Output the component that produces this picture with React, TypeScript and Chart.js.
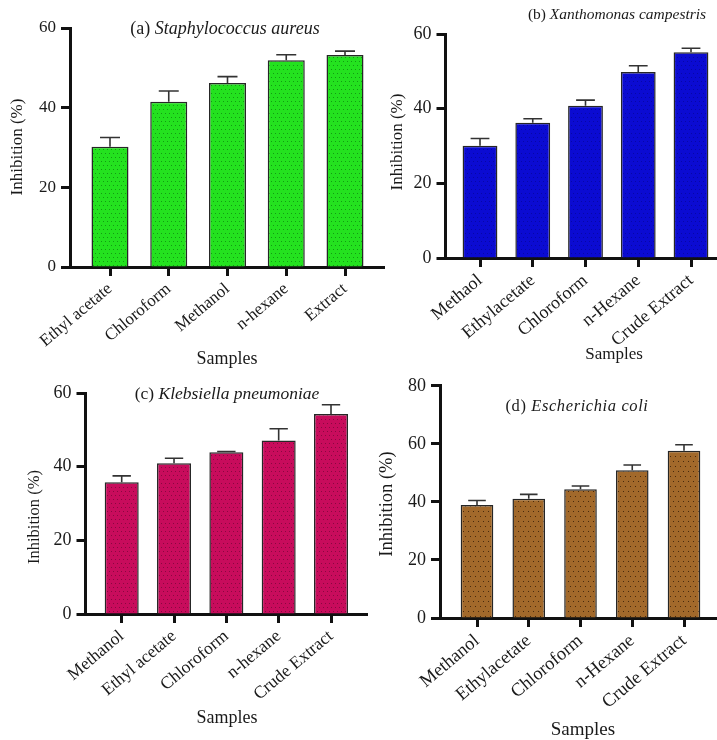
import { useEffect, useRef } from "react";
import { Chart, registerables } from "chart.js";

Chart.register(...registerables);

const SERIF = '"Liberation Serif", "Times New Roman", Times, serif';

// (a) Staphylococcus aureus
const staphSamples = ["Ethyl acetate", "Chloroform", "Methanol", "n-hexane", "Extract"];
const staphInhibition = [30.2, 41.5, 46.2, 51.9, 53.2];
const staphError = [2.3, 2.7, 1.6, 1.4, 1.0];

// (b) Xanthomonas campestris
const xanthoSamples = ["Methaol", "Ethylacetate", "Chloroform", "n-Hexane", "Crude Extract"];
const xanthoInhibition = [30.1, 36.2, 40.8, 49.8, 55.1];
const xanthoError = [1.9, 1.1, 1.5, 1.7, 1.1];

// (c) Klebsiella pneumoniae
const klebSamples = ["Methanol", "Ethyl acetate", "Chloroform", "n-hexane", "Crude Extract"];
const klebInhibition = [35.8, 40.9, 43.9, 47.1, 54.3];
const klebError = [1.7, 1.4, 0.2, 3.2, 2.5];

// (d) Escherichia coli
const coliSamples = ["Methanol", "Ethylacetate", "Chloroform", "n-Hexane", "Crude Extract"];
const coliInhibition = [38.9, 41.1, 44.4, 50.9, 57.6];
const coliError = [1.6, 1.5, 1.1, 1.8, 2.1];

const yTicks60 = [0, 20, 40, 60];
const yTicks80 = [0, 20, 40, 60, 80];

const xAxisTitle = "Samples";
const yAxisTitle = "Inhibition (%)";

type Pt = { x: number; y: number };
type Panel = {
  letter: string;
  species: string;
  samples: string[];
  values: number[];
  errors: number[];
  yTicks: number[];
  fill: string;
  dot: string;
  dotStep: number;
  box: { x: number; y: number; w: number; h: number };
  area: { left: number; right: number; top: number; bottom: number };
  firstCenter: number;
  lastCenter: number;
  barFrac: number;
  fonts: { tick: number; cat: number; header: number; yTitle: number; xTitle: number };
  headerSpacing: number;
  header: Pt;
  yTitle: Pt;
  xTitle: Pt;
};

const panels: Panel[] = [
  {
    letter: "(a)",
    species: "Staphylococcus aureus",
    samples: staphSamples,
    values: staphInhibition,
    errors: staphError,
    yTicks: yTicks60,
    fill: "#24e21f",
    dot: "#129c12",
    dotStep: 4,
    box: { x: 0, y: 0, w: 385, h: 370 },
    area: { left: 70, right: 385, top: 28, bottom: 267 },
    firstCenter: 110,
    lastCenter: 345,
    barFrac: 0.63,
    fonts: { tick: 17, cat: 17, header: 18, yTitle: 17, xTitle: 18 },
    headerSpacing: 0,
    header: { x: 225, y: 29 },
    yTitle: { x: 18, y: 147 },
    xTitle: { x: 227, y: 359 },
  },
  {
    letter: "(b)",
    species: "Xanthomonas campestris",
    samples: xanthoSamples,
    values: xanthoInhibition,
    errors: xanthoError,
    yTicks: yTicks60,
    fill: "#0b0bd2",
    dot: "#0707a6",
    dotStep: 4,
    box: { x: 372, y: 0, w: 345, h: 370 },
    area: { left: 445.5, right: 717, top: 34, bottom: 258 },
    firstCenter: 480,
    lastCenter: 691,
    barFrac: 0.66,
    fonts: { tick: 18, cat: 18, header: 15.5, yTitle: 17, xTitle: 17 },
    headerSpacing: 0,
    header: { x: 617, y: 15 },
    yTitle: { x: 398, y: 142 },
    xTitle: { x: 614, y: 355 },
  },
  {
    letter: "(c)",
    species: "Klebsiella pneumoniae",
    samples: klebSamples,
    values: klebInhibition,
    errors: klebError,
    yTicks: yTicks60,
    fill: "#c80c5c",
    dot: "#8a0840",
    dotStep: 4,
    box: { x: 0, y: 370, w: 385, h: 370 },
    area: { left: 85.5, right: 367, top: 393, bottom: 614 },
    firstCenter: 121.7,
    lastCenter: 331,
    barFrac: 0.65,
    fonts: { tick: 18, cat: 17.5, header: 17.5, yTitle: 16.5, xTitle: 18 },
    headerSpacing: 0,
    header: { x: 227, y: 394 },
    yTitle: { x: 35, y: 517 },
    xTitle: { x: 227, y: 718 },
  },
  {
    letter: "(d)",
    species: "Escherichia coli",
    samples: coliSamples,
    values: coliInhibition,
    errors: coliError,
    yTicks: yTicks80,
    fill: "#a2692b",
    dot: "#47290c",
    dotStep: 5,
    box: { x: 372, y: 370, w: 345, h: 370 },
    area: { left: 440, right: 717, top: 381, bottom: 618 },
    firstCenter: 477,
    lastCenter: 684,
    barFrac: 0.63,
    fonts: { tick: 18, cat: 18.5, header: 16.5, yTitle: 18.5, xTitle: 19 },
    headerSpacing: 0.6,
    header: { x: 577, y: 407 },
    yTitle: { x: 387, y: 504 },
    xTitle: { x: 583, y: 730 },
  },
];

// Stippled bar fill: base colour with a staggered grid of darker dots.
function dottedFill(ctx: CanvasRenderingContext2D, base: string, dot: string, step: number) {
  const tile = document.createElement("canvas");
  tile.width = step;
  tile.height = step * 2;
  const t = tile.getContext("2d");
  if (!t) return base;
  t.fillStyle = base;
  t.fillRect(0, 0, tile.width, tile.height);
  t.fillStyle = dot;
  t.fillRect(1, 1, 1, 1);
  t.fillRect(1 + Math.floor(step / 2), 1 + step, 1, 1);
  return ctx.createPattern(tile, "repeat") ?? base;
}

function PanelChart({ p }: { p: Panel }) {
  const ref = useRef<HTMLCanvasElement | null>(null);

  useEffect(() => {
    const canvas = ref.current;
    if (!canvas) return;
    const ctx = canvas.getContext("2d");
    if (!ctx) return;

    const n = p.samples.length;
    const spacing = (p.lastCenter - p.firstCenter) / (n - 1);
    const xMin = -(p.firstCenter - p.area.left) / spacing;
    const xMax = n - 1 + (p.area.right - p.lastCenter) / spacing;
    const yMax = p.yTicks[p.yTicks.length - 1];
    const ink = "#111111";

    const errorBars = {
      id: "errorBars",
      afterDatasetsDraw(chart: any) {
        const meta = chart.getDatasetMeta(0);
        const yScale = chart.scales.y;
        const c: CanvasRenderingContext2D = chart.ctx;
        c.save();
        c.strokeStyle = "#333333";
        c.lineWidth = 1.6;
        meta.data.forEach((bar: any, i: number) => {
          const { x, y, width } = bar.getProps(["x", "y", "width"], true);
          const yHi = yScale.getPixelForValue(p.values[i] + p.errors[i]);
          const half = width * 0.27;
          c.beginPath();
          c.moveTo(x, y);
          c.lineTo(x, yHi);
          c.moveTo(x - half, yHi);
          c.lineTo(x + half, yHi);
          c.stroke();
        });
        c.restore();
      },
    };

    const panelText = {
      id: "panelText",
      afterDraw(chart: any) {
        const c: any = chart.ctx;
        const ox = p.box.x;
        const oy = p.box.y;
        c.save();
        c.fillStyle = "#1a1a1a";
        c.textBaseline = "middle";

        // Header: letter upright, species in italics
        if ("letterSpacing" in c) c.letterSpacing = `${p.headerSpacing}px`;
        const normal = `${p.fonts.header}px ${SERIF}`;
        const italic = `italic ${p.fonts.header}px ${SERIF}`;
        const lead = p.letter + " ";
        c.font = normal;
        const w1 = c.measureText(lead).width;
        c.font = italic;
        const w2 = c.measureText(p.species).width;
        const startX = p.header.x - ox - (w1 + w2) / 2;
        c.textAlign = "left";
        c.font = normal;
        c.fillText(lead, startX, p.header.y - oy);
        c.font = italic;
        c.fillText(p.species, startX + w1, p.header.y - oy);
        if ("letterSpacing" in c) c.letterSpacing = "0px";

        // Axis titles
        c.textAlign = "center";
        c.font = `${p.fonts.xTitle}px ${SERIF}`;
        c.fillText(xAxisTitle, p.xTitle.x - ox, p.xTitle.y - oy);

        c.translate(p.yTitle.x - ox, p.yTitle.y - oy);
        c.rotate(-Math.PI / 2);
        c.font = `${p.fonts.yTitle}px ${SERIF}`;
        c.fillText(yAxisTitle, 0, 0);
        c.restore();
      },
    };

    const axisGrid = {
      display: true,
      offset: false,
      drawOnChartArea: false,
      drawTicks: true,
      tickLength: 9,
      tickWidth: 3,
      tickColor: ink,
    };

    const chart = new Chart(canvas, {
      type: "bar",
      data: {
        datasets: [
          {
            data: p.values.map((v, i) => ({ x: i, y: v })),
            backgroundColor: dottedFill(ctx, p.fill, p.dot, p.dotStep) as any,
            borderColor: "#262626",
            borderWidth: 1.5,
            barPercentage: p.barFrac,
            categoryPercentage: 1,
          },
        ],
      },
      options: {
        animation: false,
        responsive: false,
        maintainAspectRatio: false,
        events: [],
        layout: {
          padding: {
            left: 0,
            top: p.area.top - p.box.y,
            right: Math.max(0, p.box.x + p.box.w - p.area.right),
            bottom: 0,
          },
        },
        plugins: {
          legend: { display: false },
          tooltip: { enabled: false },
          title: { display: false },
        },
        scales: {
          x: {
            type: "linear",
            min: xMin,
            max: xMax,
            bounds: "data",
            offset: false,
            afterBuildTicks: (s: any) => {
              s.ticks = p.samples.map((_, i) => ({ value: i }));
            },
            afterFit: (s: any) => {
              s.height = p.box.y + p.box.h - p.area.bottom;
            },
            ticks: {
              autoSkip: false,
              minRotation: 40,
              maxRotation: 40,
              padding: 3,
              color: "#1a1a1a",
              font: { family: SERIF, size: p.fonts.cat },
              callback: (_v: any, i: number) => p.samples[i] ?? "",
            },
            grid: axisGrid,
            border: { display: true, width: 3, color: ink },
          },
          y: {
            type: "linear",
            min: 0,
            max: yMax,
            bounds: "data",
            afterBuildTicks: (s: any) => {
              s.ticks = p.yTicks.map((v) => ({ value: v }));
            },
            afterFit: (s: any) => {
              s.width = p.area.left - p.box.x;
            },
            ticks: {
              padding: 5,
              color: "#1a1a1a",
              font: { family: SERIF, size: p.fonts.tick },
            },
            grid: axisGrid,
            border: { display: true, width: 3, color: ink },
          },
        },
      } as any,
      plugins: [errorBars, panelText],
    });

    return () => chart.destroy();
  }, [p]);

  return (
    <canvas
      ref={ref}
      width={p.box.w}
      height={p.box.h}
      style={{
        position: "absolute",
        left: p.box.x,
        top: p.box.y,
        width: p.box.w,
        height: p.box.h,
      }}
    />
  );
}

export default function App() {
  return (
    <div
      style={{
        position: "absolute",
        left: 0,
        top: 0,
        width: 717,
        height: 740,
        background: "#ffffff",
        overflow: "hidden",
      }}
    >
      {panels.map((p) => (
        <PanelChart key={p.letter} p={p} />
      ))}
    </div>
  );
}
